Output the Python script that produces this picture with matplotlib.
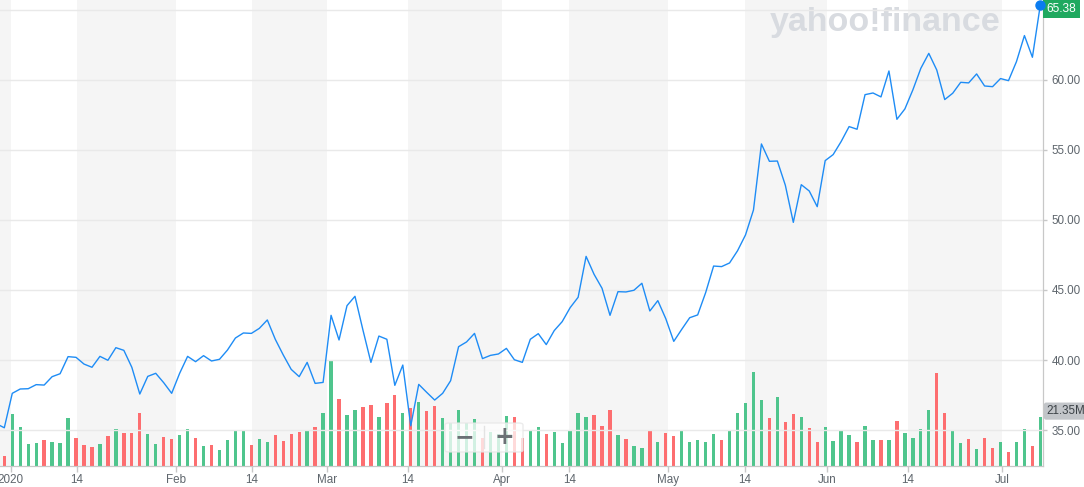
import matplotlib
matplotlib.use("Agg")
import matplotlib.pyplot as plt
from matplotlib.patches import FancyBboxPatch
import numpy as np

plt.rcParams["font.family"] = ["Liberation Sans", "DejaVu Sans"]

# close before the first visible day (Dec 30 2019), then one value per trading day
prev_close = 35.45
closes = [
    35.16, 37.62, 37.93, 37.95, 38.24, 38.21, 38.81, 39.02, 40.24, 40.19,
    39.71, 39.48, 40.26, 39.98, 40.88, 40.69, 39.48, 37.57, 38.83, 39.05,
    38.38, 37.62, 39.05, 40.26, 39.88, 40.31, 39.93, 40.05, 40.71, 41.57,
    41.93, 41.90, 42.26, 42.86, 41.48, 40.36, 39.33, 38.81, 39.83, 38.33,
    38.40, 43.19, 41.43, 43.88, 44.55, 42.14, 39.83, 41.71, 41.48, 38.19,
    39.64, 35.30, 38.26, 37.69, 37.14, 37.62, 38.52, 40.95, 41.29, 41.90,
    40.10, 40.33, 40.43, 40.83, 40.02, 39.83, 41.48, 41.88, 41.10, 42.10,
    42.74, 43.74, 44.48, 47.40, 46.12, 45.12, 43.19, 44.88, 44.86, 44.98,
    45.48, 43.50, 44.24, 42.95, 41.33, 42.19, 43.02, 43.22, 44.81, 46.71,
    46.67, 46.93, 47.80, 48.93, 50.71, 55.43, 54.19, 54.21, 52.48, 49.83,
    52.52, 52.07, 50.95, 54.24, 54.67, 55.60, 56.67, 56.48, 58.95, 59.07,
    58.79, 60.64, 57.19, 57.93, 59.29, 60.83, 61.90, 60.71, 58.60, 59.05,
    59.83, 59.79, 60.43, 59.57, 59.52, 60.10, 59.95, 61.31, 63.17, 61.62,
    65.38,
]
# volume in millions
volumes = [
    4.3, 22.6, 17.0, 9.7, 10.1, 11.3, 10.5, 10.1, 20.9, 12.3,
    9.1, 8.2, 9.7, 13.1, 16.2, 14.4, 14.4, 23.1, 14.0, 9.7,
    12.7, 11.8, 13.6, 16.2, 12.3, 8.8, 9.2, 7.1, 11.4, 15.3,
    15.3, 9.2, 11.8, 10.5, 13.6, 11.0, 14.0, 14.9, 15.3, 17.0,
    23.1, 46.0, 29.1, 22.2, 24.4, 25.7, 26.5, 21.3, 27.4, 30.9,
    23.1, 25.2, 27.7, 23.9, 26.1, 20.9, 18.7, 24.4, 18.7, 20.5,
    12.3, 14.9, 14.0, 21.8, 21.3, 12.3, 15.3, 17.0, 14.0, 14.9,
    10.1, 15.3, 23.1, 21.3, 22.2, 17.5, 24.4, 13.6, 11.8, 8.8,
    7.9, 15.7, 10.5, 14.4, 13.1, 15.7, 10.5, 11.4, 10.5, 14.0,
    11.4, 15.3, 23.1, 27.4, 40.8, 28.7, 20.8, 30.0, 19.2, 22.6,
    21.3, 16.6, 10.5, 17.0, 11.0, 15.3, 13.6, 10.5, 17.5, 11.4,
    11.4, 11.4, 19.6, 14.4, 12.3, 16.2, 24.4, 40.4, 23.1, 15.3,
    10.1, 11.8, 7.5, 12.3, 7.9, 10.5, 6.2, 10.5, 16.2, 8.8,
    21.35,
]
tick_pos = [0.8, 9.1, 21.5, 31.1, 40.5, 50.6, 62.4, 70.9, 83.3, 92.9, 103.2, 113.4, 125.2]
tick_labels = ["2020", "14", "Feb", "14", "Mar", "14", "Apr", "14", "May", "14", "Jun", "14", "Jul"]
price_ticks = [35, 40, 45, 50, 55, 60, 65]

blue = "#1e8cf5"
green = "#4fc58d"
red = "#fd6e70"
grey_txt = "#5f666d"

W, H = 1084, 487
fig = plt.figure(figsize=(W / 100, H / 100), dpi=100)
rect = [0, 21 / H, 1043 / W, 466 / H]
axv = fig.add_axes(rect)
ax = axv.twinx()
ax.set_zorder(2)
axv.set_zorder(1)
ax.patch.set_visible(False)

x = np.arange(len(closes))
xmin, xmax = -0.54, 130.33

# alternating shaded bands between the date ticks
axv.axvspan(xmin, tick_pos[0], color="#f5f5f5", lw=0, zorder=0)
for k in range(1, len(tick_pos) - 1, 2):
    axv.axvspan(tick_pos[k], tick_pos[k + 1], color="#f5f5f5", lw=0, zorder=0)

# volume bars, coloured by close vs previous close
prev = [prev_close] + closes[:-1]
cols = [green if c >= p else red for c, p in zip(closes, prev)]
axv.bar(x, volumes, width=0.42, color=cols, zorder=2)
axv.set_ylim(0, 201.7)
axv.set_yticks([])
axv.set_xlim(xmin, xmax)

# price line
ax.plot(np.concatenate([[-1], x]), [prev_close] + closes, color=blue, lw=1.0, zorder=3)
ax.plot(x[-1], closes[-1], "o", color="#0a7cf0", ms=6.5, zorder=4, clip_on=False)
ax.set_xlim(xmin, xmax)
ax.set_ylim(32.43, 65.71)
ax.set_yticks(price_ticks)
# top gridline's label sits under the last-price tag
ax.set_yticklabels([f"{v:.2f}" if v < closes[-1] - 1 else "" for v in price_ticks])
ax.grid(axis="y", color="#e9e9e9", lw=1.0)
ax.tick_params(axis="y", right=True, left=False, labelright=True, labelleft=False,
               length=3, width=1, color="#c8c8c8", labelsize=8.4, labelcolor=grey_txt, pad=3)

for a in (ax, axv):
    for s in ("top", "left"):
        a.spines[s].set_visible(False)
    a.spines["right"].set_color("#c8c8c8")
    a.spines["bottom"].set_color("#c8c8c8")

axv.set_xticks(tick_pos)
axv.set_xticklabels(tick_labels)
axv.tick_params(axis="x", length=4, width=1, color="#c8c8c8", labelsize=8.4,
                labelcolor=grey_txt, pad=2)
ax.tick_params(axis="x", bottom=False, labelbottom=False)

# watermark
fig.text(885 / W, 1 - 22 / H, "yahoo!finance", ha="center", va="center",
         fontsize=24.5, fontweight="bold", color="#d8dbe0", zorder=1)

# last price tag
ax.annotate(f"{closes[-1]:.2f}", xy=(1, closes[-1]), xycoords=("axes fraction", "data"),
            xytext=(2.5, -3), textcoords="offset points", ha="left", va="center",
            fontsize=8.6, color="white", annotation_clip=False,
            bbox=dict(boxstyle="square,pad=0.28", fc="#1fa95f", ec="none"))
# last volume tag
axv.annotate(f"{volumes[-1]:.2f}M", xy=(1, volumes[-1]), xycoords=("axes fraction", "data"),
             xytext=(2.5, 4), textcoords="offset points", ha="left", va="center",
             fontsize=8.4, color="#3c4247", annotation_clip=False,
             bbox=dict(boxstyle="round,pad=0.22,rounding_size=0.2", fc="#c2c5c9", ec="none"))

# zoom control overlay
ctrl = FancyBboxPatch((445 / W, 1 - 452 / H), 78 / W, 29 / H,
                      boxstyle="round,pad=0,rounding_size=0.004",
                      transform=fig.transFigure, fc="white", ec="#e6e6e6",
                      alpha=0.75, lw=1, zorder=5)
fig.patches.append(ctrl)
fig.text(464 / W, 1 - 437 / H, "\u2212", ha="center", va="center", fontsize=17,
         fontweight="bold", color="#6b7075", family="DejaVu Sans", zorder=6)
fig.text(504 / W, 1 - 437 / H, "+", ha="center", va="center", fontsize=17,
         fontweight="bold", color="#6b7075", family="DejaVu Sans", zorder=6)
fig.lines.append(plt.Line2D([484 / W, 484 / W], [1 - 448 / H, 1 - 426 / H],
                            transform=fig.transFigure, color="#e3e3e3", lw=1, zorder=6))

fig.savefig("out.png", dpi=100)
